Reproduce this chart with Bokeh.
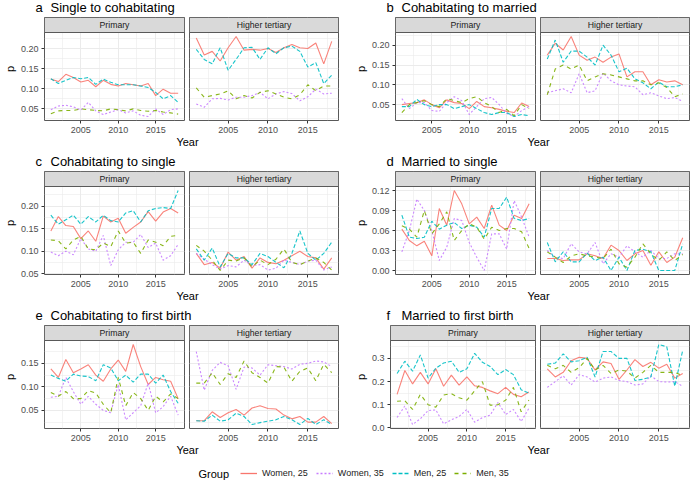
from bokeh.plotting import figure
from bokeh.layouts import row, column
from bokeh.models import (Range1d, FixedTicker, PrintfTickFormatter, Label, Legend, LegendItem,
                          ColumnDataSource, BoxAnnotation)
from bokeh.embed import file_html
from bokeh.resources import INLINE

years = list(range(2001, 2019))
groups = ["Women, 25", "Women, 35", "Men, 25", "Men, 35"]
facets = ["Primary", "Higher tertiary"]
colors = ["#F8766D", "#C77CFF", "#00BFC4", "#7CAE00"]
dashes = ["solid", "2 2", "4 2", "4 4"]

# a Single to cohabitating
a_pri_w25 = [0.124,0.118,0.136,0.128,0.117,0.121,0.105,0.121,0.111,0.107,0.113,0.110,0.107,0.113,0.083,0.099,0.089,0.089]
a_pri_w35 = [0.048,0.057,0.059,0.055,0.047,0.066,0.045,0.036,0.042,0.048,0.040,0.045,0.034,0.031,0.050,0.036,0.048,0.050]
a_pri_m25 = [0.125,0.113,0.121,0.128,0.125,0.128,0.111,0.124,0.116,0.110,0.110,0.110,0.107,0.103,0.091,0.075,0.083,0.066]
a_pri_m35 = [0.038,0.045,0.046,0.046,0.050,0.048,0.046,0.045,0.050,0.048,0.045,0.050,0.046,0.044,0.046,0.042,0.040,0.037]
a_ht_w25 = [0.226,0.184,0.193,0.169,0.202,0.230,0.196,0.198,0.196,0.200,0.190,0.202,0.210,0.202,0.200,0.214,0.162,0.218]
a_ht_w35 = [0.062,0.054,0.075,0.076,0.072,0.079,0.079,0.083,0.091,0.075,0.087,0.093,0.088,0.070,0.080,0.099,0.087,0.089]
a_ht_m25 = [0.198,0.173,0.162,0.202,0.146,0.173,0.202,0.203,0.173,0.202,0.187,0.202,0.206,0.193,0.154,0.165,0.113,0.134]
a_ht_m35 = [0.102,0.079,0.083,0.087,0.095,0.075,0.083,0.077,0.091,0.095,0.087,0.079,0.075,0.085,0.110,0.095,0.107,0.107]

# b Cohabitating to married
b_pri_w25 = [0.050,0.053,0.055,0.062,0.050,0.042,0.062,0.055,0.053,0.040,0.058,0.045,0.042,0.038,0.033,0.030,0.054,0.045]
b_pri_w35 = [0.065,0.040,0.055,0.055,0.035,0.033,0.055,0.070,0.060,0.025,0.045,0.065,0.068,0.050,0.028,0.020,0.035,0.045]
b_pri_m25 = [0.045,0.045,0.063,0.050,0.045,0.050,0.050,0.040,0.045,0.050,0.040,0.030,0.025,0.030,0.030,0.020,0.025,0.022]
b_pri_m35 = [0.030,0.050,0.055,0.060,0.050,0.045,0.065,0.060,0.055,0.065,0.070,0.055,0.045,0.030,0.038,0.022,0.050,0.040]
b_ht_w25 = [0.175,0.205,0.188,0.222,0.175,0.162,0.170,0.157,0.170,0.178,0.120,0.133,0.133,0.100,0.113,0.107,0.110,0.100]
b_ht_w35 = [0.080,0.085,0.090,0.080,0.128,0.080,0.085,0.130,0.110,0.100,0.097,0.095,0.075,0.080,0.072,0.065,0.068,0.058]
b_ht_m25 = [0.165,0.213,0.157,0.185,0.185,0.170,0.150,0.200,0.175,0.133,0.142,0.115,0.105,0.090,0.107,0.095,0.095,0.100]
b_ht_m35 = [0.075,0.140,0.150,0.140,0.150,0.110,0.120,0.128,0.125,0.120,0.115,0.110,0.110,0.100,0.105,0.093,0.070,0.077]

# c Cohabitating to single
c_pri_w25 = [0.145,0.177,0.157,0.155,0.128,0.145,0.122,0.178,0.165,0.173,0.140,0.153,0.165,0.188,0.167,0.187,0.195,0.185]
c_pri_w35 = [0.098,0.090,0.100,0.092,0.128,0.105,0.100,0.135,0.068,0.103,0.120,0.120,0.137,0.108,0.118,0.080,0.090,0.115]
c_pri_m25 = [0.180,0.160,0.170,0.180,0.160,0.177,0.165,0.180,0.168,0.165,0.185,0.190,0.165,0.190,0.195,0.197,0.195,0.235]
c_pri_m35 = [0.125,0.123,0.105,0.125,0.133,0.105,0.103,0.118,0.110,0.145,0.118,0.120,0.095,0.125,0.120,0.112,0.133,0.135]
c_ht_w25 = [0.095,0.070,0.075,0.062,0.098,0.080,0.088,0.062,0.085,0.075,0.072,0.080,0.090,0.100,0.088,0.085,0.060,0.085]
c_ht_w35 = [0.095,0.082,0.070,0.060,0.068,0.065,0.080,0.068,0.070,0.058,0.062,0.080,0.075,0.070,0.078,0.080,0.058,0.065]
c_ht_m25 = [0.105,0.080,0.107,0.065,0.095,0.085,0.085,0.070,0.095,0.088,0.075,0.063,0.095,0.145,0.095,0.080,0.095,0.120]
c_ht_m35 = [0.113,0.100,0.080,0.057,0.080,0.078,0.085,0.065,0.080,0.070,0.082,0.105,0.075,0.070,0.078,0.085,0.075,0.058]

# d Married to single
d_pri_w25 = [0.062,0.045,0.037,0.044,0.022,0.093,0.068,0.120,0.100,0.070,0.080,0.063,0.098,0.068,0.060,0.083,0.078,0.100]
d_pri_w35 = [0.028,0.060,0.107,0.090,0.060,0.015,0.035,0.078,0.075,0.042,0.020,0.000,0.055,0.055,0.032,0.105,0.080,0.050]
d_pri_m25 = [0.083,0.050,0.048,0.050,0.074,0.062,0.068,0.072,0.063,0.068,0.065,0.050,0.093,0.093,0.110,0.078,0.075,0.078]
d_pri_m35 = [0.067,0.062,0.050,0.090,0.055,0.070,0.088,0.045,0.060,0.070,0.065,0.047,0.065,0.060,0.063,0.063,0.058,0.033]
d_ht_w25 = [0.018,0.018,0.015,0.016,0.016,0.025,0.022,0.018,0.038,0.030,0.015,0.025,0.030,0.008,0.028,0.012,0.020,0.049]
d_ht_w35 = [0.030,0.020,0.018,0.040,0.028,0.025,0.042,0.010,0.025,0.020,0.037,0.028,0.020,0.030,0.018,0.018,0.025,0.025]
d_ht_m25 = [0.042,0.013,0.028,0.013,0.013,0.026,0.015,0.020,0.000,0.020,0.000,0.030,0.032,0.028,0.000,0.000,0.000,0.040]
d_ht_m35 = [0.028,0.020,0.012,0.022,0.025,0.022,0.020,0.018,0.032,0.010,0.005,0.020,0.040,0.025,0.015,0.028,0.015,0.024]

# e Cohabitating to first birth
e_pri_w25 = [0.138,0.120,0.158,0.130,0.138,0.147,0.125,0.112,0.138,0.157,0.133,0.190,0.143,0.105,0.120,0.115,0.112,0.075]
e_pri_w35 = [0.078,0.080,0.120,0.090,0.063,0.080,0.063,0.050,0.045,0.105,0.030,0.045,0.060,0.108,0.045,0.058,0.080,0.040]
e_pri_m25 = [0.125,0.118,0.112,0.127,0.123,0.122,0.113,0.147,0.140,0.113,0.125,0.110,0.127,0.127,0.108,0.125,0.090,0.065]
e_pri_m35 = [0.088,0.080,0.090,0.075,0.075,0.092,0.087,0.063,0.045,0.120,0.060,0.088,0.075,0.050,0.080,0.068,0.085,0.075]
e_ht_w25 = [0.028,0.028,0.047,0.035,0.045,0.052,0.040,0.055,0.060,0.054,0.053,0.040,0.032,0.037,0.025,0.025,0.037,0.022]
e_ht_w35 = [0.175,0.093,0.135,0.152,0.145,0.095,0.142,0.140,0.125,0.147,0.145,0.143,0.138,0.148,0.150,0.155,0.153,0.143]
e_ht_m25 = [0.028,0.027,0.040,0.027,0.030,0.044,0.037,0.020,0.024,0.027,0.030,0.037,0.030,0.020,0.033,0.020,0.030,0.020]
e_ht_m35 = [0.108,0.108,0.130,0.105,0.128,0.120,0.155,0.130,0.120,0.108,0.143,0.142,0.112,0.133,0.140,0.113,0.148,0.130]

# f Married to first birth
f_pri_w25 = [0.145,0.248,0.190,0.240,0.190,0.255,0.180,0.228,0.185,0.220,0.182,0.175,0.160,0.148,0.175,0.145,0.135,0.155]
f_pri_w35 = [0.045,0.095,0.015,0.040,0.075,0.078,0.018,0.035,0.050,0.080,0.025,0.045,0.055,0.110,0.058,0.080,0.028,0.085]
f_pri_m25 = [0.235,0.288,0.245,0.315,0.215,0.258,0.280,0.288,0.240,0.255,0.322,0.283,0.265,0.230,0.252,0.230,0.165,0.150]
f_pri_m35 = [0.115,0.118,0.080,0.145,0.100,0.090,0.142,0.148,0.130,0.120,0.160,0.200,0.098,0.100,0.120,0.175,0.070,0.120]
f_ht_w25 = [0.255,0.220,0.240,0.290,0.305,0.300,0.250,0.285,0.278,0.210,0.250,0.295,0.265,0.283,0.258,0.275,0.215,0.235]
f_ht_w35 = [0.175,0.200,0.225,0.185,0.230,0.220,0.198,0.215,0.220,0.205,0.200,0.185,0.190,0.225,0.200,0.198,0.200,0.180]
f_ht_m25 = [0.275,0.280,0.320,0.285,0.290,0.305,0.220,0.330,0.330,0.300,0.300,0.205,0.210,0.220,0.360,0.350,0.180,0.335]
f_ht_m35 = [0.270,0.255,0.270,0.240,0.260,0.300,0.250,0.270,0.235,0.250,0.245,0.215,0.240,0.270,0.240,0.240,0.240,0.225]

panels = [
    ("a", "Single to cohabitating",
     [[a_pri_w25, a_pri_w35, a_pri_m25, a_pri_m35], [a_ht_w25, a_ht_w35, a_ht_m25, a_ht_m35]],
     [0.05, 0.10, 0.15, 0.20], "%.2f"),
    ("b", "Cohabitating to married",
     [[b_pri_w25, b_pri_w35, b_pri_m25, b_pri_m35], [b_ht_w25, b_ht_w35, b_ht_m25, b_ht_m35]],
     [0.05, 0.10, 0.15, 0.20], "%.2f"),
    ("c", "Cohabitating to single",
     [[c_pri_w25, c_pri_w35, c_pri_m25, c_pri_m35], [c_ht_w25, c_ht_w35, c_ht_m25, c_ht_m35]],
     [0.05, 0.10, 0.15, 0.20], "%.2f"),
    ("d", "Married to single",
     [[d_pri_w25, d_pri_w35, d_pri_m25, d_pri_m35], [d_ht_w25, d_ht_w35, d_ht_m25, d_ht_m35]],
     [0.00, 0.03, 0.06, 0.09, 0.12], "%.2f"),
    ("e", "Cohabitating to first birth",
     [[e_pri_w25, e_pri_w35, e_pri_m25, e_pri_m35], [e_ht_w25, e_ht_w35, e_ht_m25, e_ht_m35]],
     [0.05, 0.10, 0.15], "%.2f"),
    ("f", "Married to first birth",
     [[f_pri_w25, f_pri_w35, f_pri_m25, f_pri_m35], [f_ht_w25, f_ht_w35, f_ht_m25, f_ht_m35]],
     [0.0, 0.1, 0.2, 0.3], "%.1f"),
]

FONT = "Liberation Sans"
LEFT_AX = 35
FW = 149
FH = 88
BOT = 15
STRIP_H = 15
TITLE_H = 17
YEAR_H = 13
GAP = 12
VSP = 6
BORDER = "#595959"
GRID = "#EBEBEB"

BW = (LEFT_AX + FW + 1) + 4 + (FW + 1)

xlo = min(years) - 0.05 * (max(years) - min(years))
xhi = max(years) + 0.05 * (max(years) - min(years))
x_ticks = [2005, 2010, 2015]
x_minor = [2002.5, 2007.5, 2012.5, 2017.5]


def text_fig(w, h):
    p = figure(width=w, height=h, x_range=Range1d(0, w), y_range=Range1d(0, h),
               toolbar_location=None, output_backend="svg",
               x_axis_location=None, y_axis_location=None,
               min_border_left=0, min_border_right=0, min_border_top=0, min_border_bottom=0)
    p.outline_line_color = None
    p.grid.visible = False
    return p


def facet_fig(name, series, ylo, yhi, ticks, minors, fmt, left):
    ytop = ylo + (yhi - ylo) * (FH + STRIP_H) / FH
    p = figure(width=(LEFT_AX if left else 0) + FW + 1, height=FH + STRIP_H + BOT,
               x_range=Range1d(xlo, xhi), y_range=Range1d(ylo, ytop),
               toolbar_location=None, output_backend="svg",
               y_axis_location="left" if left else None,
               min_border_left=LEFT_AX if left else 0, min_border_right=1,
               min_border_top=0, min_border_bottom=BOT)
    p.background_fill_color = "white"
    p.outline_line_color = BORDER
    p.outline_line_width = 1
    p.xaxis.ticker = FixedTicker(ticks=x_ticks, minor_ticks=x_minor)
    p.xgrid.grid_line_color = GRID
    p.xgrid.grid_line_width = 1
    p.xgrid.minor_grid_line_color = GRID
    p.xgrid.minor_grid_line_width = 0.6
    p.ygrid.ticker = FixedTicker(ticks=ticks, minor_ticks=minors)
    p.ygrid.grid_line_color = GRID
    p.ygrid.grid_line_width = 1
    p.ygrid.minor_grid_line_color = GRID
    p.ygrid.minor_grid_line_width = 0.6
    axes = list(p.xaxis) + (list(p.yaxis) if left else [])
    for ax in axes:
        ax.axis_line_color = None
        ax.major_tick_line_color = "#333333"
        ax.major_tick_out = 3
        ax.major_tick_in = 0
        ax.minor_tick_line_color = None
        ax.major_label_text_font = FONT
        ax.major_label_text_font_size = "9px"
        ax.major_label_text_color = "#4D4D4D"
        ax.major_label_standoff = 2
    if left:
        p.yaxis.ticker = FixedTicker(ticks=ticks, minor_ticks=minors)
        p.yaxis.formatter = PrintfTickFormatter(format=fmt)
        p.yaxis.axis_label = "p"
        p.yaxis.axis_label_text_font = FONT
        p.yaxis.axis_label_text_font_size = "11px"
        p.yaxis.axis_label_text_font_style = "normal"
        p.yaxis.axis_label_text_color = "black"
        p.yaxis.axis_label_standoff = 2
    for vals, col, dash in zip(series, colors, dashes):
        src = ColumnDataSource(dict(year=years, p=vals))
        p.line("year", "p", source=src, line_color=col, line_dash=dash,
               line_width=1.1, line_alpha=0.9)
    # facet strip: top band of the frame, above the data range
    p.add_layout(BoxAnnotation(bottom=yhi, fill_color="#D9D9D9", fill_alpha=1,
                               line_color=BORDER, line_alpha=1, line_width=1))
    p.add_layout(Label(x=(xlo + xhi) / 2, y=(yhi + ytop) / 2, text=name, text_align="center",
                       text_baseline="middle", text_font=FONT, text_font_size="8.7px",
                       text_color="#1A1A1A"))
    return p


def panel_block(letter, title, data, ticks, fmt):
    allv = [v for fac in data for s in fac for v in s]
    vmin, vmax = min(allv), max(allv)
    ylo = vmin - 0.05 * (vmax - vmin)
    yhi = vmax + 0.05 * (vmax - vmin)
    step = ticks[1] - ticks[0]
    minors = [t - step / 2 for t in ticks] + [ticks[-1] + step / 2]
    minors = [m for m in minors if ylo <= m <= yhi]
    tf = text_fig(BW, TITLE_H)
    tf.add_layout(Label(x=LEFT_AX, y=TITLE_H - 7, text=letter, text_font=FONT,
                        text_font_size="13px", text_color="black", text_baseline="middle"))
    tf.add_layout(Label(x=LEFT_AX + 15, y=TITLE_H - 7, text=title, text_font=FONT,
                        text_font_size="13px", text_color="black", text_baseline="middle"))
    figs = [facet_fig(fac, data[i], ylo, yhi, ticks, minors, fmt, i == 0)
            for i, fac in enumerate(facets)]
    yf = text_fig(BW, YEAR_H)
    yf.add_layout(Label(x=(LEFT_AX + BW) / 2, y=YEAR_H / 2, text="Year", text_align="center",
                        text_baseline="middle", text_font=FONT, text_font_size="11px",
                        text_color="black"))
    return column(tf, row(figs[0], figs[1], spacing=4), yf)


blocks = [panel_block(*pn) for pn in panels]
rows = [row(blocks[0], blocks[1], spacing=GAP),
        row(blocks[2], blocks[3], spacing=GAP),
        row(blocks[4], blocks[5], spacing=GAP)]

LW = 2 * BW + GAP
LH = 18
lp = text_fig(LW, LH)
items = []
for g, c, d in zip(groups, colors, dashes):
    # legend key renderers only: kept outside the visible range
    r = lp.line(x=[-30, -20], y=[-30, -30], line_color=c, line_dash=d, line_width=1.3, line_alpha=1)
    items.append(LegendItem(label=g, renderers=[r]))
leg = Legend(items=items, orientation="horizontal", location=(240, 2),
             border_line_color=None, background_fill_alpha=0, padding=0, margin=0,
             glyph_width=17, glyph_height=14, label_standoff=5, spacing=8,
             label_text_font=FONT, label_text_font_size="9px", label_text_color="#1A1A1A")
lp.add_layout(leg)
lp.add_layout(Label(x=198, y=9, text="Group", text_baseline="middle", text_font=FONT,
                    text_font_size="11px", text_color="black"))

layout = column(column(rows[0], rows[1], rows[2], spacing=VSP), lp, spacing=8)

open("out.html", "w").write(file_html(layout, INLINE))
